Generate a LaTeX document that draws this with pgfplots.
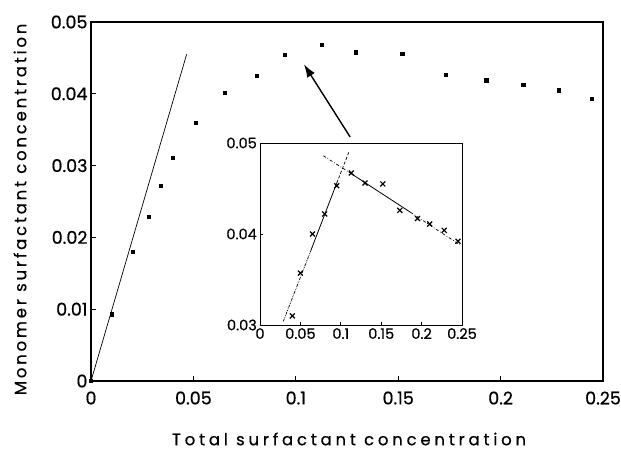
\documentclass[border=0pt]{standalone}
\usepackage{fontspec}
\setmainfont{Poppins}[FakeBold=0.6]
\newfontfamily\spacedx[LetterSpace=23, FakeBold=0.6]{Poppins}
\newfontfamily\spacedy[LetterSpace=17, FakeBold=0.6]{Poppins}
\usepackage{pgfplots}
\pgfplotsset{compat=1.18}
\usetikzlibrary{arrows.meta,calc}

\pgfplotstableread{
x       y
0       0
0.0101  0.0093
0.0205  0.0180
0.0282  0.0229
0.0340  0.0272
0.0399  0.0311
0.0513  0.0360
0.0654  0.0402
0.0810  0.0425
0.0947  0.0454
0.1126  0.0468
0.1294  0.0458
0.1520  0.0456
0.1730  0.0427
0.1930  0.0419
0.2110  0.0413
0.2285  0.0405
0.2446  0.0393
}\maindata

\pgfplotstableread{
x      y
0.040  0.0310
0.050  0.0357
0.065  0.0400
0.080  0.0422
0.095  0.0453
0.113  0.0467
0.130  0.0456
0.152  0.0455
0.173  0.0426
0.195  0.0417
0.210  0.0411
0.228  0.0404
0.245  0.0392
}\insetdata

\begin{document}
\begin{tikzpicture}
\begin{axis}[
  name=main,
  at={(0pt,0pt)}, anchor=south west,
  scale only axis,
  width=512pt, height=359pt,
  xmin=0, xmax=0.25, ymin=0, ymax=0.05,
  scaled ticks=false,
  xtick={0,0.05,0.1,0.15,0.2,0.25},
  xticklabels={0,0.05,0.1,0.15,0.2,0.25},
  ytick={0,0.01,0.02,0.03,0.04,0.05},
  yticklabels={0,0.01,0.02,0.03,0.04,0.05},
  tick align=inside, major tick length=5pt,
  xtick pos=bottom, ytick pos=left,
  axis line style={line width=1.1pt},
  tick style={line width=0.8pt, black},
  /pgf/number format/assume math mode=true,
  ticklabel style={font=\fontsize{17.5}{20}\selectfont},
  xticklabel style={yshift=-7pt},
  clip=false,
]
\addplot[only marks, mark=square*, mark size=1.6pt, black] table {\maindata};
\addplot[black, line width=0.7pt] coordinates {(0,0) (0.0467,0.0455)};
\draw[line width=1.4pt, -{Latex[length=13pt, width=9pt]}]
  (axis cs:0.1265,0.0340) -- (axis cs:0.1040,0.0441);
\node[font=\fontsize{16.5}{19}\selectfont\spacedx, anchor=center, inner sep=1pt]
  at ($(axis description cs:0.504,0)+(0,-58pt)$) {Total surfactant concentration};
\node[font=\fontsize{16.5}{19}\selectfont\spacedy, anchor=center, rotate=90, inner sep=1pt]
  at ($(axis description cs:0,0.478)+(-71pt,0)$) {Monomer surfactant concentration};
\end{axis}

\begin{axis}[
  at={(169pt,56pt)}, anchor=south west,
  scale only axis,
  width=202pt, height=182pt,
  xmin=0, xmax=0.25, ymin=0.03, ymax=0.05,
  scaled ticks=false,
  xtick={0,0.05,0.1,0.15,0.2,0.25},
  xticklabels={0,0.05,0.1,0.15,0.2,0.25},
  ytick={0.03,0.04,0.05},
  yticklabels={0.03,0.04,0.05},
  tick align=inside, major tick length=3pt,
  xtick pos=bottom, ytick pos=left,
  axis line style={line width=0.9pt},
  tick style={line width=0.7pt, black},
  axis background/.style={fill=white},
  /pgf/number format/assume math mode=true,
  ticklabel style={font=\fontsize{14.5}{16}\selectfont},
  xticklabel style={inner sep=1pt, yshift=-2pt},
  yticklabel style={inner sep=1pt, xshift=-2pt},
]
\addplot[only marks, mark=x, mark size=3.5pt, line width=1.2pt, black] table {\insetdata};
% steep branch: dotted below, solid in the middle, dashed at the top
\addplot[black, line width=0.7pt, densely dash dot dot] coordinates {(0.0288,0.0304) (0.063,0.0382)};
\addplot[black, line width=0.8pt] coordinates {(0.063,0.0382) (0.095,0.0456)};
\addplot[black, line width=0.7pt, densely dashed] coordinates {(0.095,0.0456) (0.110,0.0490)};
% falling branch
\addplot[black, line width=0.7pt, dash dot] coordinates {(0.0784,0.0486) (0.110,0.0468)};
\addplot[black, line width=0.8pt] coordinates {(0.110,0.0468) (0.186,0.0424)};
\addplot[black, line width=0.7pt, dash dot] coordinates {(0.186,0.0424) (0.2475,0.0388)};
\end{axis}

\pgfresetboundingbox
\path[use as bounding box] (-91pt,-71pt) rectangle (530pt,381pt);
\end{tikzpicture}
\end{document}
